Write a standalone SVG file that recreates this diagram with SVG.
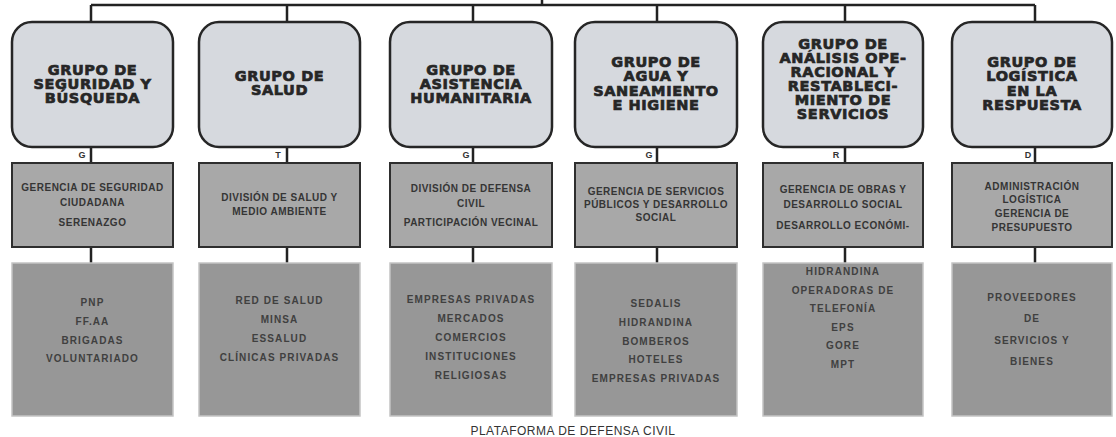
<svg xmlns="http://www.w3.org/2000/svg" width="1116" height="437" viewBox="0 0 1116 437">
<style>
.bg{fill:#ffffff}
.top{fill:#d6d9de;stroke:#262626;stroke-width:2.5}
.mid{fill:#a8a8a8;stroke:#2e2e2e;stroke-width:2}
.bot{fill:#979797;stroke:#c4c4c4;stroke-width:1.5}
.con{fill:none;stroke:#222222;stroke-width:2.5}
.t{font-family:"DejaVu Sans","Liberation Sans",sans-serif;font-weight:bold;font-size:14.5px;fill:#262626;stroke:#262626;stroke-width:0.7px;text-anchor:middle;letter-spacing:0.6px}
.m{font-family:"Liberation Sans",Arial,sans-serif;font-weight:bold;font-size:10px;fill:#353535;text-anchor:middle;letter-spacing:0.5px}
.b{font-family:"Liberation Sans",Arial,sans-serif;font-weight:bold;font-size:10px;fill:#404040;text-anchor:middle;letter-spacing:1.1px}
.l{font-family:"Liberation Sans",Arial,sans-serif;font-weight:bold;font-size:9px;fill:#333333;text-anchor:middle}
.f{font-family:"Liberation Sans",Arial,sans-serif;font-size:12px;fill:#333333;text-anchor:middle;letter-spacing:0.5px}
</style>
<rect class="bg" x="0" y="0" width="1116" height="437"/>
<g id="connectors">
<path class="con" d="M542,0 V5 M91,5 H1035 M91,5 V22 M287,5 V22 M473,5 V22 M657,5 V22 M845,5 V22 M1035,5 V22"/>
<path class="con" d="M91,147 V163 M287,147 V163 M473,147 V163 M657,147 V163 M845,147 V163 M1035,147 V163"/>
<path class="con" d="M91,247 V263 M287,247 V263 M473,247 V263 M657,247 V263 M845,247 V263 M1035,247 V263"/>
<text class="l" x="82" y="158">G</text>
<text class="l" x="278" y="158">T</text>
<text class="l" x="466" y="158">G</text>
<text class="l" x="649" y="158">G</text>
<text class="l" x="836" y="158">R</text>
<text class="l" x="1028" y="158">D</text>
</g>
<g id="col1">
<g id="grupo-seguridad">
<rect class="top" x="12" y="22" width="161" height="125" rx="20"/>
<text class="t" x="92.5" y="75">GRUPO DE</text>
<text class="t" x="92.5" y="89">SEGURIDAD Y</text>
<text class="t" x="92.5" y="103">BÚSQUEDA</text>
</g>
<g id="gerencia-seguridad">
<rect class="mid" x="12" y="163" width="161" height="84"/>
<text class="m" x="92.5" y="190.6">GERENCIA DE SEGURIDAD</text>
<text class="m" x="92.5" y="205.6">CIUDADANA</text>
<text class="m" x="92.5" y="225.6">SERENAZGO</text>
</g>
<g id="apoyo-seguridad">
<rect class="bot" x="12" y="263" width="161" height="153"/>
<text class="b" x="92.5" y="305.6">PNP</text>
<text class="b" x="92.5" y="324.6">FF.AA</text>
<text class="b" x="92.5" y="343.6">BRIGADAS</text>
<text class="b" x="92.5" y="361.6">VOLUNTARIADO</text>
</g>
</g>
<g id="col2">
<g id="grupo-salud">
<rect class="top" x="199" y="22" width="161" height="125" rx="20"/>
<text class="t" x="279.5" y="81">GRUPO DE</text>
<text class="t" x="279.5" y="95">SALUD</text>
</g>
<g id="division-salud">
<rect class="mid" x="199" y="163" width="161" height="84"/>
<text class="m" x="279.5" y="200.6">DIVISIÓN DE SALUD Y</text>
<text class="m" x="279.5" y="214.6">MEDIO AMBIENTE</text>
</g>
<g id="apoyo-salud">
<rect class="bot" x="199" y="263" width="161" height="153"/>
<text class="b" x="279.5" y="303.6">RED DE SALUD</text>
<text class="b" x="279.5" y="322.6">MINSA</text>
<text class="b" x="279.5" y="341.6">ESSALUD</text>
<text class="b" x="279.5" y="360.6">CLÍNICAS PRIVADAS</text>
</g>
</g>
<g id="col3">
<g id="grupo-asistencia">
<rect class="top" x="390" y="22" width="162" height="125" rx="20"/>
<text class="t" x="471" y="75">GRUPO DE</text>
<text class="t" x="471" y="89">ASISTENCIA</text>
<text class="t" x="471" y="103">HUMANITARIA</text>
</g>
<g id="division-defensa">
<rect class="mid" x="390" y="163" width="162" height="84"/>
<text class="m" x="471" y="191.6">DIVISIÓN DE DEFENSA</text>
<text class="m" x="471" y="206.6">CIVIL</text>
<text class="m" x="471" y="225.6">PARTICIPACIÓN VECINAL</text>
</g>
<g id="apoyo-asistencia">
<rect class="bot" x="390" y="263" width="162" height="153"/>
<text class="b" x="471" y="302.6">EMPRESAS PRIVADAS</text>
<text class="b" x="471" y="321.6">MERCADOS</text>
<text class="b" x="471" y="340.6">COMERCIOS</text>
<text class="b" x="471" y="359.6">INSTITUCIONES</text>
<text class="b" x="471" y="378.6">RELIGIOSAS</text>
</g>
</g>
<g id="col4">
<g id="grupo-agua">
<rect class="top" x="575" y="22" width="162" height="125" rx="20"/>
<text class="t" x="656" y="67">GRUPO DE</text>
<text class="t" x="656" y="81">AGUA Y</text>
<text class="t" x="656" y="96">SANEAMIENTO</text>
<text class="t" x="656" y="110">E HIGIENE</text>
</g>
<g id="gerencia-servicios">
<rect class="mid" x="575" y="163" width="162" height="84"/>
<text class="m" x="656" y="194.6">GERENCIA DE SERVICIOS</text>
<text class="m" x="656" y="207.6">PÚBLICOS Y DESARROLLO</text>
<text class="m" x="656" y="220.6">SOCIAL</text>
</g>
<g id="apoyo-agua">
<rect class="bot" x="575" y="263" width="162" height="153"/>
<text class="b" x="656" y="306.6">SEDALIS</text>
<text class="b" x="656" y="325.6">HIDRANDINA</text>
<text class="b" x="656" y="344.6">BOMBEROS</text>
<text class="b" x="656" y="362.6">HOTELES</text>
<text class="b" x="656" y="381.6">EMPRESAS PRIVADAS</text>
</g>
</g>
<g id="col5">
<g id="grupo-analisis">
<rect class="top" x="763" y="22" width="160" height="125" rx="20"/>
<text class="t" x="843" y="49">GRUPO DE</text>
<text class="t" x="843" y="63">ANÁLISIS OPE-</text>
<text class="t" x="843" y="77">RACIONAL Y</text>
<text class="t" x="843" y="91">RESTABLECI-</text>
<text class="t" x="843" y="105">MIENTO DE</text>
<text class="t" x="843" y="119">SERVICIOS</text>
</g>
<g id="gerencia-obras">
<rect class="mid" x="763" y="163" width="160" height="84"/>
<text class="m" x="843" y="192.6">GERENCIA DE OBRAS Y</text>
<text class="m" x="843" y="207.6">DESARROLLO SOCIAL</text>
<text class="m" x="843" y="228.6">DESARROLLO ECONÓMI-</text>
</g>
<g id="apoyo-analisis">
<rect class="bot" x="763" y="263" width="160" height="153"/>
<text class="b" x="843" y="274.6">HIDRANDINA</text>
<text class="b" x="843" y="293.6">OPERADORAS DE</text>
<text class="b" x="843" y="311.6">TELEFONÍA</text>
<text class="b" x="843" y="330.6">EPS</text>
<text class="b" x="843" y="348.6">GORE</text>
<text class="b" x="843" y="367.6">MPT</text>
</g>
</g>
<g id="col6">
<g id="grupo-logistica">
<rect class="top" x="952" y="22" width="160" height="125" rx="20"/>
<text class="t" x="1032" y="67">GRUPO DE</text>
<text class="t" x="1032" y="81">LOGÍSTICA</text>
<text class="t" x="1032" y="96">EN LA</text>
<text class="t" x="1032" y="110">RESPUESTA</text>
</g>
<g id="administracion">
<rect class="mid" x="952" y="163" width="160" height="84"/>
<text class="m" x="1032" y="189.6">ADMINISTRACIÓN</text>
<text class="m" x="1032" y="202.6">LOGÍSTICA</text>
<text class="m" x="1032" y="216.6">GERENCIA DE</text>
<text class="m" x="1032" y="230.6">PRESUPUESTO</text>
</g>
<g id="apoyo-logistica">
<rect class="bot" x="952" y="263" width="160" height="153"/>
<text class="b" x="1032" y="300.6">PROVEEDORES</text>
<text class="b" x="1032" y="321.6">DE</text>
<text class="b" x="1032" y="343.6">SERVICIOS Y</text>
<text class="b" x="1032" y="364.6">BIENES</text>
</g>
</g>
<text class="f" x="573" y="435">PLATAFORMA DE DEFENSA CIVIL</text>
</svg>
